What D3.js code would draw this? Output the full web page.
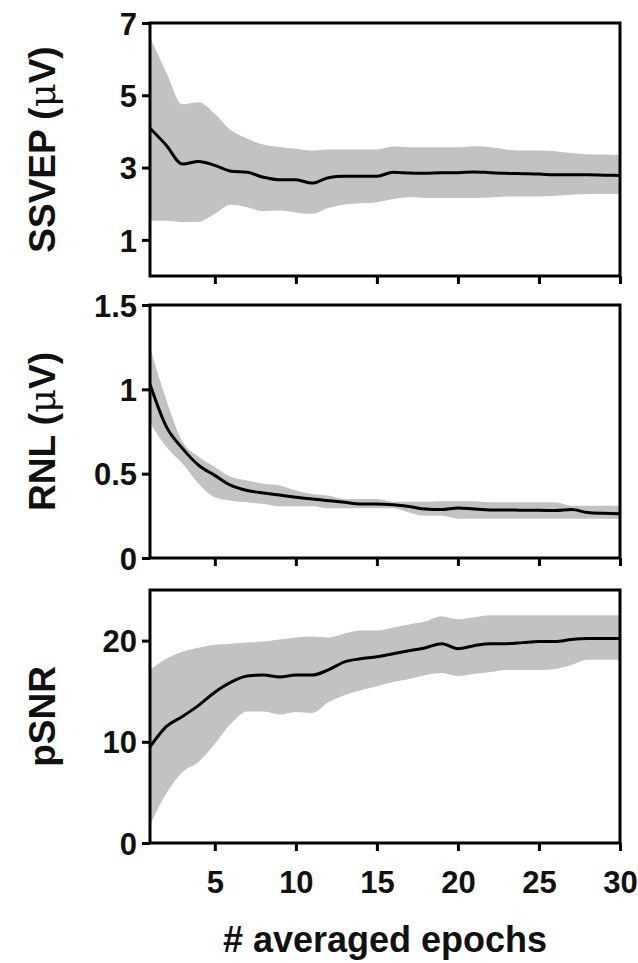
<!DOCTYPE html>
<html>
<head>
<meta charset="utf-8">
<script src="https://cdn.jsdelivr.net/npm/d3@7"></script>
<style>
  body { margin: 0; background: #fff; }
  svg text { font-family: "Liberation Sans", Arial, sans-serif; font-weight: bold; fill: #111; }
</style>
</head>
<body>
<svg id="chart" width="638" height="963"></svg>
<script>
// epochs averaged (x)
const epochs = d3.range(1, 31);

// SSVEP amplitude (uV): mean and band
const ssvepMean = [4.09, 3.62, 3.10, 3.17, 3.06, 2.90, 2.87, 2.73, 2.66, 2.66, 2.57, 2.72, 2.76, 2.76, 2.76,
  2.87, 2.85, 2.84, 2.86, 2.86, 2.88, 2.86, 2.84, 2.83, 2.82, 2.80, 2.80, 2.80, 2.79, 2.78];
const ssvepHi = [6.60, 5.64, 4.75, 4.81, 4.49, 4.03, 3.80, 3.64, 3.57, 3.52, 3.47, 3.50, 3.50, 3.50, 3.50,
  3.58, 3.56, 3.56, 3.56, 3.56, 3.59, 3.56, 3.50, 3.47, 3.47, 3.45, 3.40, 3.37, 3.36, 3.35];
const ssvepLo = [1.53, 1.53, 1.49, 1.50, 1.72, 1.97, 1.90, 1.79, 1.81, 1.76, 1.72, 1.88, 1.98, 2.01, 2.04,
  2.13, 2.18, 2.16, 2.16, 2.16, 2.16, 2.17, 2.20, 2.20, 2.20, 2.22, 2.25, 2.27, 2.27, 2.27];

// residual noise level (uV)
const rnlMean = [1.03, 0.78, 0.65, 0.55, 0.49, 0.43, 0.40, 0.385, 0.373, 0.36, 0.35, 0.34, 0.33, 0.32, 0.32,
  0.315, 0.305, 0.29, 0.287, 0.297, 0.29, 0.285, 0.285, 0.283, 0.283, 0.281, 0.287, 0.27, 0.265, 0.262];
const rnlHi = [1.25, 0.94, 0.69, 0.60, 0.54, 0.48, 0.46, 0.44, 0.43, 0.40, 0.38, 0.37, 0.35, 0.35, 0.35,
  0.334, 0.334, 0.334, 0.336, 0.336, 0.336, 0.33, 0.33, 0.33, 0.33, 0.33, 0.31, 0.31, 0.31, 0.31];
const rnlLo = [0.80, 0.66, 0.56, 0.44, 0.36, 0.34, 0.33, 0.32, 0.307, 0.307, 0.307, 0.295, 0.295, 0.295, 0.295,
  0.295, 0.27, 0.25, 0.25, 0.232, 0.232, 0.232, 0.232, 0.232, 0.232, 0.232, 0.232, 0.232, 0.232, 0.232];

// peak SNR
const psnrMean = [9.5, 11.5, 12.5, 13.6, 14.9, 15.9, 16.5, 16.6, 16.4, 16.6, 16.6, 17.1, 17.9, 18.2, 18.4,
  18.7, 19.0, 19.3, 19.7, 19.2, 19.5, 19.7, 19.7, 19.8, 19.9, 19.9, 20.1, 20.2, 20.2, 20.2];
const psnrHi = [17.1, 18.2, 18.9, 19.3, 19.6, 19.7, 19.8, 19.9, 20.1, 20.3, 20.4, 20.3, 20.7, 21.0, 21.0,
  21.3, 21.6, 21.9, 22.4, 22.1, 22.3, 22.5, 22.5, 22.5, 22.5, 22.5, 22.5, 22.5, 22.5, 22.5];
const psnrLo = [1.8, 4.9, 7.0, 8.0, 9.8, 11.8, 13.0, 13.0, 12.7, 12.95, 12.85, 13.9, 14.6, 15.1, 15.5,
  15.9, 16.2, 16.6, 16.8, 16.5, 16.7, 16.9, 17.1, 17.1, 17.1, 17.2, 17.6, 18.1, 18.1, 18.1];

const xTicks = [5, 10, 15, 20, 25, 30];

const panels = [
  { label: 'SSVEP', unit: true, mean: ssvepMean, hi: ssvepHi, lo: ssvepLo, domain: [0, 7], ticks: [1, 3, 5, 7], top: 23 },
  { label: 'RNL', unit: true, mean: rnlMean, hi: rnlHi, lo: rnlLo, domain: [0, 1.5], ticks: [0, 0.5, 1, 1.5], top: 305 },
  { label: 'pSNR', unit: false, mean: psnrMean, hi: psnrHi, lo: psnrLo, domain: [0, 25], ticks: [0, 10, 20], top: 590 }
];

const svg = d3.select('#chart');
const left = 150, right = 620, ph = 253;

const x = d3.scaleLinear().domain([1, 30]).range([left, right]);

panels.forEach((p, k) => {
  const y = d3.scaleLinear().domain(p.domain).range([p.top + ph, p.top]);
  const g = svg.append('g');
  const rows = epochs.map((e, i) => ({ x: e, m: p.mean[i], hi: p.hi[i], lo: p.lo[i] }));

  // shaded band
  g.append('path')
    .datum(rows)
    .attr('fill', '#c2c2c2')
    .attr('d', d3.area().curve(d3.curveMonotoneX)
      .x(d => x(d.x)).y0(d => y(d.lo)).y1(d => y(d.hi)));

  // mean line
  g.append('path')
    .datum(rows)
    .attr('fill', 'none')
    .attr('stroke', '#000')
    .attr('stroke-width', 3)
    .attr('d', d3.line().curve(d3.curveMonotoneX).x(d => x(d.x)).y(d => y(d.m)));

  // frame
  g.append('rect')
    .attr('x', left).attr('y', p.top)
    .attr('width', right - left).attr('height', ph)
    .attr('fill', 'none').attr('stroke', '#000').attr('stroke-width', 3);

  // y axis
  const ya = g.append('g')
    .attr('transform', `translate(${left},0)`)
    .call(d3.axisLeft(y).tickValues(p.ticks).tickSize(8).tickPadding(5).tickFormat(d3.format('')));
  ya.select('.domain').remove();
  ya.selectAll('line').attr('stroke', '#000').attr('stroke-width', 3);
  ya.selectAll('text').style('font-size', '31px').attr('dy', '0.36em');

  // x axis
  const xa = g.append('g')
    .attr('transform', `translate(0,${p.top + ph})`)
    .call(d3.axisBottom(x).tickValues(xTicks).tickSize(8).tickFormat(k === 2 ? d3.format('') : ''));
  xa.select('.domain').remove();
  xa.selectAll('line').attr('stroke', '#000').attr('stroke-width', 3);
  xa.selectAll('text').style('font-size', '31px').attr('y', 28);

  // y title
  const t = g.append('text')
    .attr('transform', `translate(42,${p.top + ph / 2}) rotate(-90)`)
    .attr('text-anchor', 'middle')
    .attr('dy', '0.36em')
    .style('font-size', '37px')
    .text(p.label);
  if (p.unit) {
    t.append('tspan').text(' (');
    t.append('tspan').style('font-weight', 'normal').style('font-family', 'DejaVu Serif, serif').text('μ');
    t.append('tspan').text('V)');
  }
});

svg.append('text')
  .attr('x', (left + right) / 2)
  .attr('y', 952)
  .attr('text-anchor', 'middle')
  .style('font-size', '36px')
  .text('# averaged epochs');
</script>
</body>
</html>
